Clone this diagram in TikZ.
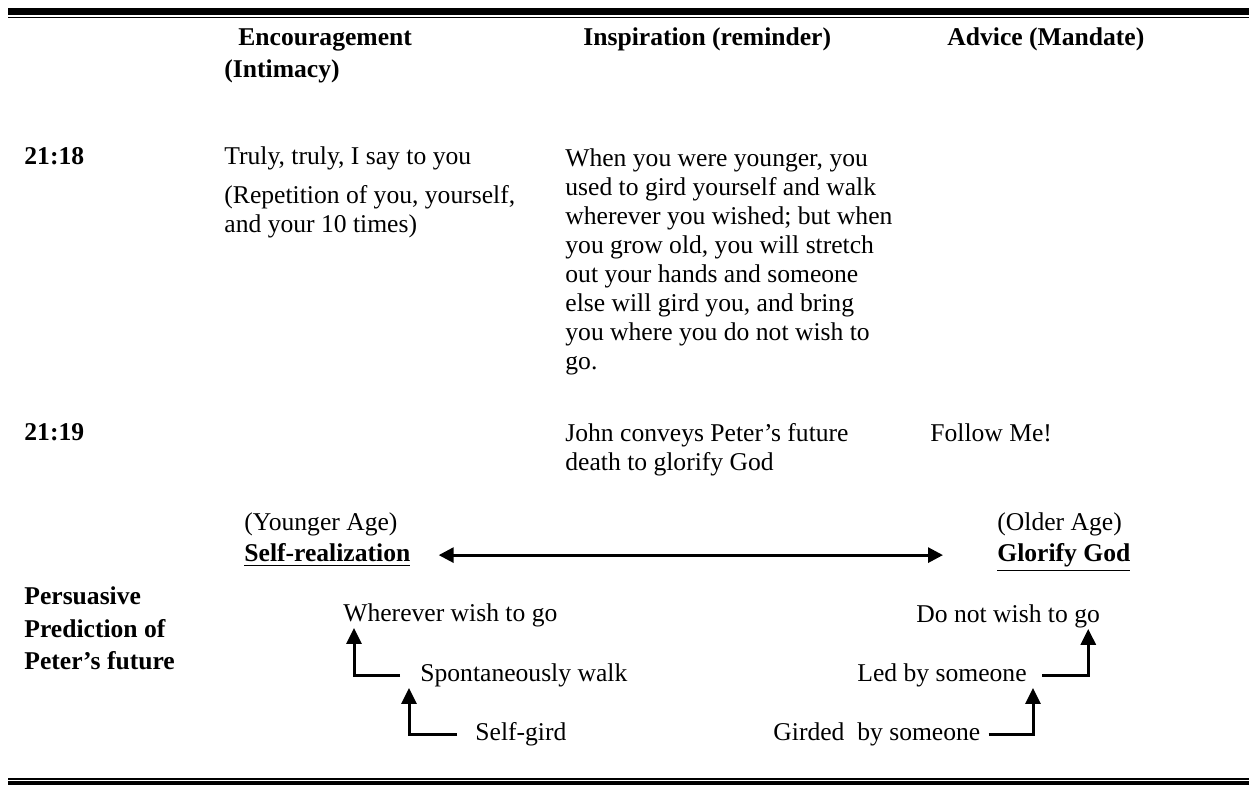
\documentclass[tikz,border=0pt]{standalone}
\usepackage{fontspec}
\setmainfont{Liberation Serif}
\usetikzlibrary{arrows.meta, positioning, calc}

\begin{document}
\begin{tikzpicture}
            [x=0.5pt, y=-0.5pt, font=\fontsize{12.8}{14.5}\selectfont,
            txt/.style={anchor=base west, inner sep=0pt, align=left},
            hdr/.style={txt, font=\fontsize{12.8}{14.5}\selectfont\bfseries},
            steparrow/.style={-{Triangle[width=7.5pt,length=8pt]}, line width=1.5pt},
            agearrow/.style={{Triangle[width=7.5pt,length=7.5pt]}-{Triangle[width=7.5pt,length=7.5pt]}, line width=1.5pt}]
            \useasboundingbox (0,0) rectangle (1249,785);
            % rules of the table
            \fill (8,8) rectangle (1249,15.5);
            \draw[line width=0.6pt] (8,17.5) -- (1249,17.5);
            \draw[line width=0.6pt] (8,779) -- (1249,779);
            \fill (8,781) rectangle (1249,785);
            % column heads (multi-line nodes sit on their last line)
            \node[hdr, font=\fontsize{12.8}{16}\selectfont\bfseries] (encour) at (224,78) {\hspace*{7pt}Encouragement\\(Intimacy)};
            \node[hdr] (inspir) at (583,46) {Inspiration (reminder)};
            \node[hdr] (advice) at (947,46) {Advice (Mandate)};
            % verse 21:18
            \node[hdr] (v18) at (24,165) {21:18};
            \node[txt] (truly) at (224,165) {Truly, truly, I say to you};
            \node[txt] (repet) at (224,233) {(Repetition of you, yourself,\\and your 10 times)};
            \node[txt] (younger) at (565,370)
            {When you were younger, you\\
                used to gird yourself and walk\\
                wherever you wished; but when\\
                you grow old, you will stretch\\
                out your hands and someone\\
                else will gird you, and bring\\
                you where you do not wish to\\
                go.};
            % verse 21:19
            \node[hdr] (v19) at (24,441) {21:19};
            \node[txt] (conveys) at (565,471) {John conveys Peter's future\\death to glorify God};
            \node[txt] (follow) at (930,442) {Follow Me!};
            % prediction
            \node[txt, font=\fontsize{12.8}{16.3}\selectfont\bfseries] (persua) at (24,670)
            {Persuasive\\Prediction of\\Peter's future};
            \node[txt] (youngage) at (244,531) {(Younger Age)};
            \node[hdr] (selfreal) at (244,562) {\underline{Self-realization}};
            \node[txt] (oldage) at (997,531) {(Older Age)};
            \node[hdr] (glorify) at (997,562) {\underline{Glorify God}};
            \draw[agearrow] ([xshift=14pt]selfreal.east) -- ([xshift=-27pt]glorify.west |- selfreal.east);
            % younger steps
            \node[txt] (wherever) at (343,622) {Wherever wish to go};
            \node[txt] (spont) at (420,682) {Spontaneously walk};
            \node[txt] (selfgird) at (475,741) {Self-gird};
            \draw[steparrow] ([xshift=-10pt]spont.west) -| ([xshift=5.5pt]wherever.south west);
            \draw[steparrow] ([xshift=-9pt]selfgird.west) -| ([xshift=-5.5pt]spont.south west);
            % older steps
            \node[txt] (donot) at (916,623) {Do not wish to go};
            \node[txt] (led) at (857,682) {Led by someone};
            \node[txt] (girded) at (773,741) {Girded\ \ by someone};
            \draw[steparrow] ([xshift=7.5pt]led.east) -| ([xshift=-6pt]donot.south east);
            \draw[steparrow] ([xshift=4pt]girded.east) -| ([xshift=3pt]led.south east);
        \end{tikzpicture}
\end{document}
